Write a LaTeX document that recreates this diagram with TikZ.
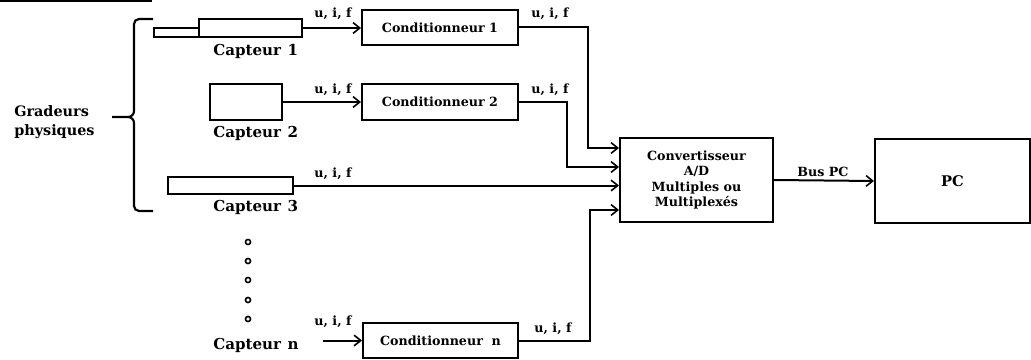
\documentclass[tikz,border=0pt]{standalone}
\usepackage{fontspec}
\setmainfont{DejaVu Serif}
\usetikzlibrary{arrows.meta}
\newcommand\lblfont{\fontsize{9.5}{11.4}\selectfont\bfseries}
\newcommand\sidefont{\fontsize{11.3}{14.2}\selectfont\bfseries}
\begin{document}
\begin{tikzpicture}[x=0.75pt,y=-0.75pt,
  box/.style={draw,line width=1.5pt,inner sep=0pt},
  wire/.style={line width=1.5pt},
  arr/.style={wire,-{Straight Barb[length=5pt,width=8pt,line width=1.2pt]}},
  lbl/.style={font=\lblfont,inner sep=0pt},
  side/.style={font=\sidefont,inner sep=0pt,anchor=west},
  dot/.style={circle,draw,line width=1.2pt,minimum size=3.8pt,inner sep=0pt}]
\useasboundingbox (0,0) rectangle (1031,360);

% rule at the top edge
\draw[line width=1.4pt] (0,0.9) -- (152,0.9);

% sensors
\node[box,minimum width=33.75pt,minimum height=6.75pt] (cap1s) at (176.5,32.5) {};
\node[box,minimum width=77.25pt,minimum height=13.5pt] (cap1) at (250.5,28) {};
\node[box,minimum width=54pt,minimum height=27pt] (cap2) at (246,102) {};
\node[box,minimum width=93.75pt,minimum height=12.75pt] (cap3) at (230.5,185.5) {};

\node[side] (lc1) at (213,51) {Capteur\hspace{5pt}1};
\node[side] (lc2) at (213,133) {Capteur\hspace{5pt}2};
\node[side] (lc3) at (213,207) {Capteur\hspace{5pt}3};
\node[side] (lcn) at (213,345) {Capteur\hspace{5pt}n};

% ellipsis of further sensors
\foreach \k/\yy in {1/242,2/261,3/280,4/300,5/319}
  \node[dot] (d\k) at (248,\yy) {};

% conditioners
\node[box,minimum width=117pt,minimum height=26.25pt,font=\lblfont] (cond1) at (440,27.5) {Conditionneur 1};
\node[box,minimum width=117pt,minimum height=27pt,font=\lblfont] (cond2) at (440,102) {Conditionneur 2};
\node[box,minimum width=116.25pt,minimum height=26.25pt,font=\lblfont] (condn) at (440.5,340.5) {Conditionneur\ \ n};

% converter and PC
\node[box,minimum width=114.75pt,minimum height=63pt,font=\lblfont,align=center] (conv) at (696.5,180)
  {Convertisseur\\A/D\\Multiples ou\\Multiplexés};
\node[box,minimum width=116.25pt,minimum height=63pt,font=\fontsize{11}{13}\selectfont\bfseries] (pc) at (952.5,181) {PC};

% physical quantities and brace
\node[side,align=left,font=\fontsize{10.8}{14}\selectfont\bfseries] (grad) at (14,122) {Gradeurs\\physiques};
\draw[line width=1.6pt] (153,19) -- (139,19) to[out=180,in=90] (134,24) -- (134,111)
  to[out=-90,in=0] (128,117) -- (112,117);
\draw[line width=1.6pt] (128,117) to[out=0,in=90] (134,123) -- (134,206)
  to[out=-90,in=180] (139,211) -- (153,211);

% signal paths
\draw[arr] (cap1.east) -- (cap1.east -| cond1.west);
\draw[arr] (cap2.east) -- (cap2.east -| cond2.west);
\coordinate (inN) at (323,340.5);
\draw[arr] (inN) -- (condn.west);

\draw[arr] (cond1.east) -- (588,27.5) -- (588,148) -- (conv.west |- 0,148);
\draw[arr] (cond2.east) -- (567,102) -- (567,167) -- (conv.west |- 0,167);
\draw[arr] (cap3.east) -- (cap3.east -| conv.west);
\draw[arr] (condn.east) -- (590,340.5) -- (590,210) -- (conv.west |- 0,210);
\draw[arr] (conv.east) -- (pc.west);

% signal labels
\node[lbl] (u1) at (333,14) {u, i, f};
\node[lbl] (u1o) at (550,14) {u, i, f};
\node[lbl] (u2) at (333,90) {u, i, f};
\node[lbl] (u2o) at (550,90) {u, i, f};
\node[lbl] (u3) at (333,174) {u, i, f};
\node[lbl] (un) at (333,322) {u, i, f};
\node[lbl] (uno) at (553,329) {u, i, f};
\node[lbl] (bus) at (823,172) {Bus PC};
\end{tikzpicture}
\end{document}
